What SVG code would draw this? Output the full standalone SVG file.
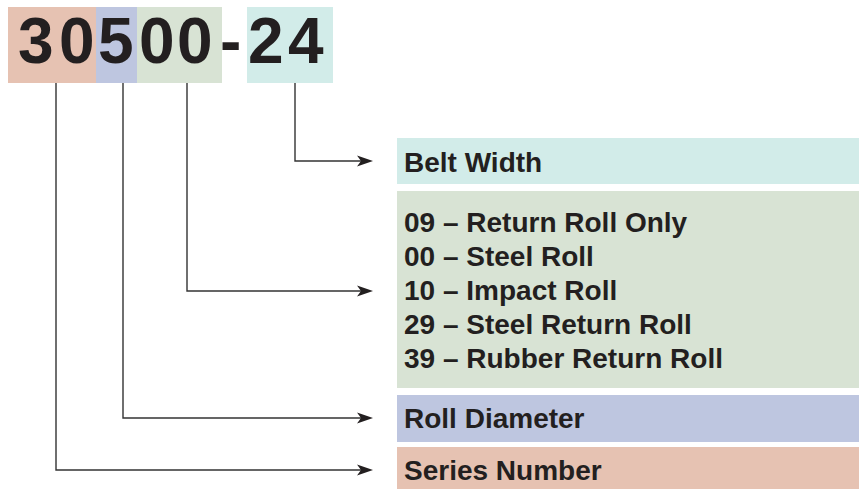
<svg xmlns="http://www.w3.org/2000/svg" width="859" height="489" viewBox="0 0 859 489">
<style>
.lbl{font-family:"Liberation Sans",Arial,sans-serif;font-weight:bold;font-size:28px;fill:#231f20}
.big{font-family:"Liberation Sans",Arial,sans-serif;font-weight:bold;font-size:64px;fill:#231f20}
.ln{fill:none;stroke:#333;stroke-width:1.4}
.ah{fill:#231f20}
</style>
<rect width="859" height="489" fill="#fff"/>
<g id="code">
<rect x="8" y="7" width="88" height="76" fill="#e6c2b2"/>
<rect x="96" y="7" width="41" height="76" fill="#bec6e0"/>
<rect x="137" y="7" width="85" height="76" fill="#d8e3d4"/>
<rect x="247" y="7" width="86" height="76" fill="#d2ece9"/>
<text class="big" x="18 59 98 139 177 220 248 288" y="63">30500-24</text>
</g>
<g id="belt-width">
<rect x="397" y="138" width="462" height="46" fill="#d2ece9"/>
<text class="lbl" x="404" y="172">Belt Width</text>
</g>
<g id="roll-type">
<rect x="397" y="191" width="462" height="197" fill="#d8e3d4"/>
<text class="lbl" x="404" y="232">09 – Return Roll Only</text>
<text class="lbl" x="404" y="266">00 – Steel Roll</text>
<text class="lbl" x="404" y="300">10 – Impact Roll</text>
<text class="lbl" x="404" y="334">29 – Steel Return Roll</text>
<text class="lbl" x="404" y="368">39 – Rubber Return Roll</text>
</g>
<g id="roll-diameter">
<rect x="397" y="395" width="462" height="47" fill="#bec6e0"/>
<text class="lbl" x="404" y="428">Roll Diameter</text>
</g>
<g id="series-number">
<rect x="397" y="447" width="462" height="42" fill="#e6c2b2"/>
<text class="lbl" x="404" y="480">Series Number</text>
</g>
<g id="connectors">
<path class="ln" d="M295,83 V161 H362"/>
<path class="ln" d="M187,83 V291 H362"/>
<path class="ln" d="M123,83 V418 H362"/>
<path class="ln" d="M56,83 V470 H362"/>
<path class="ah" d="M373,161 L357,155.5 L361,161 L357,166.5 Z"/>
<path class="ah" d="M373,291 L357,285.5 L361,291 L357,296.5 Z"/>
<path class="ah" d="M373,418 L357,412.5 L361,418 L357,423.5 Z"/>
<path class="ah" d="M373,470 L357,464.5 L361,470 L357,475.5 Z"/>
</g>
</svg>
